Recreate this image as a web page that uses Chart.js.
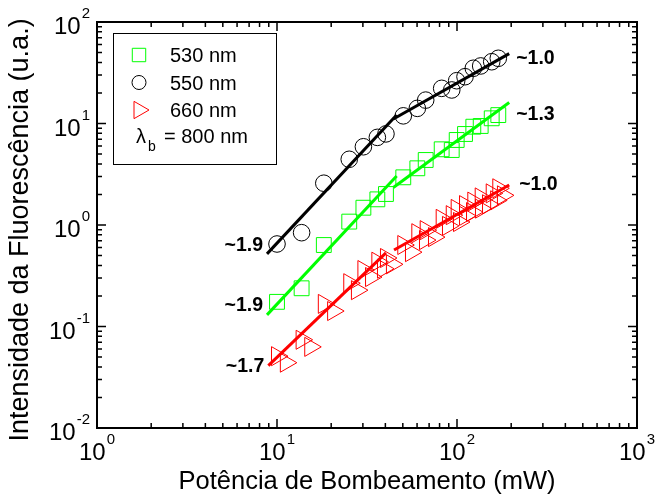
<!DOCTYPE html>
<html>
<head>
<meta charset="utf-8">
<script src="https://cdn.jsdelivr.net/npm/chart.js@4.4.1/dist/chart.umd.min.js"></script>
<style>
  html, body { margin: 0; padding: 0; background: #fff; }
</style>
</head>
<body>
<canvas id="chart" width="657" height="504"></canvas>
<script>
// pump power (mW) shared by the 530 / 550 nm bands and the first 660 nm run
const power = [10.0, 13.7, 18.2, 25.2, 30.2, 36.1, 40.3, 50.3, 60.2, 67.0, 82.2, 93.5, 99.6, 110.8, 123.2, 135.4, 155.9, 169.6];
const band530 = [0.175, 0.238, 0.635, 1.08, 1.48, 1.79, 2.02, 2.95, 3.62, 4.37, 5.57, 5.48, 6.88, 7.88, 9.3, 9.45, 11.25, 12.1];
const band550 = [0.65, 0.84, 2.58, 4.44, 5.9, 7.3, 7.9, 11.9, 14.1, 17.0, 22.2, 21.4, 26.4, 28.9, 35.0, 36.9, 40.6, 43.9];
const band660 = [0.051, 0.074, 0.167, 0.267, 0.36, 0.435, 0.473, 0.635, 0.83, 0.89, 1.15, 1.25, 1.44, 1.57, 1.70, 1.87, 2.05, 2.30];
// second 660 nm run
const power660b = [11.2, 15.3, 20.5, 27.8, 33.3, 38.8, 43.5, 55.5, 66.4, 74.5, 89.1, 102.6, 110.8, 121.2, 135.9, 148.7, 165.0, 180.0];
const band660b = [0.044, 0.063, 0.142, 0.228, 0.307, 0.371, 0.41, 0.54, 0.71, 0.76, 0.98, 1.07, 1.23, 1.34, 1.45, 1.6, 1.75, 1.96];

// power-law fits  I = a * P^n  (n is the slope written beside each line)
const fitBand = ['550', '550', '530', '530', '660', '660'];
const fitSlope = [1.9, 1.0, 1.9, 1.3, 1.7, 1.0];
const fitCoef = [0.00834, 0.25, 0.00209, 0.01695, 0.000993, 0.0127];
const fitFrom = [8.8, 44.3, 8.8, 44.3, 8.95, 44.7];
const fitTo = [46.2, 195, 46.2, 195, 40.3, 195];

const xTickExp = [0, 1, 2, 3];
const yTickExp = [-2, -1, 0, 1, 2];

const FONT = '"Liberation Sans", Arial, Helvetica, sans-serif';
const colors = { '530': '#00ff00', '550': '#000000', '660': '#ff0000' };

// which end of the fit gets the slope label, and a small nudge [dx, dy]
const labelSide = ['start', 'end', 'start', 'end', 'start', 'end'];
const labelNudge = [[-4, -8], [7, 5], [-4, -9], [7, 12], [-4, 1], [10, 0]];

const pts = (xs, ys) => xs.map((x, i) => ({ x: x, y: ys[i] }));

const markers = [
  { label: '530 nm', data: pts(power, band530), borderColor: colors['530'],
    pointStyle: 'rect', pointRadius: 10.5, pointRotation: 0 },
  { label: '550 nm', data: pts(power, band550), borderColor: colors['550'],
    pointStyle: 'circle', pointRadius: 8.3, pointRotation: 0 },
  { label: '660 nm', data: pts(power, band660), borderColor: colors['660'],
    pointStyle: 'triangle', pointRadius: 11, pointRotation: 90 },
  { label: '', data: pts(power660b, band660b), borderColor: colors['660'],
    pointStyle: 'triangle', pointRadius: 11, pointRotation: 90, inLegend: false }
].map(d => Object.assign({
  backgroundColor: 'rgba(0,0,0,0)', borderWidth: 1, showLine: false, order: 2
}, d));

const fits = fitSlope.map((n, i) => ({
  label: 'fit',
  isFit: true,
  fitIndex: i,
  data: [fitFrom[i], fitTo[i]].map(p => ({ x: p, y: fitCoef[i] * Math.pow(p, n) })),
  borderColor: colors[fitBand[i]],
  borderWidth: 3,
  pointRadius: 0,
  showLine: true,
  order: 1
}));

function drawPow(ctx, exp, x, baseY, align) {
  // "10" with a raised exponent
  const base = '10', sup = String(exp);
  ctx.font = '24px ' + FONT;
  const wb = ctx.measureText(base).width;
  ctx.font = '15px ' + FONT;
  const ws = ctx.measureText(sup).width;
  const total = wb + 1 + ws;
  let left = align === 'right' ? x - total : x - total / 2;
  ctx.textAlign = 'left';
  ctx.textBaseline = 'alphabetic';
  ctx.font = '24px ' + FONT;
  ctx.fillText(base, left, baseY);
  ctx.font = '15px ' + FONT;
  ctx.fillText(sup, left + wb + 1, baseY - 16);
}

const decor = {
  id: 'decor',
  afterDatasetsDraw(chart) {
    const { ctx, chartArea: a, scales: { x, y } } = chart;
    ctx.save();
    ctx.strokeStyle = '#000';
    ctx.fillStyle = '#000';

    // inward ticks on all four sides
    ctx.lineWidth = 1.5;
    ctx.beginPath();
    for (let e = xTickExp[0]; e <= xTickExp[xTickExp.length - 1]; e++) {
      for (let m = 1; m <= 9; m++) {
        const v = m * Math.pow(10, e);
        if (v > x.max) break;
        const px = x.getPixelForValue(v);
        const len = m === 1 ? 9 : 5;
        ctx.moveTo(px, a.bottom); ctx.lineTo(px, a.bottom - len);
        ctx.moveTo(px, a.top); ctx.lineTo(px, a.top + len);
      }
    }
    for (let e = yTickExp[0]; e <= yTickExp[yTickExp.length - 1]; e++) {
      for (let m = 1; m <= 9; m++) {
        const v = m * Math.pow(10, e);
        if (v > y.max * 1.0001) break;
        const py = y.getPixelForValue(v);
        const len = m === 1 ? 9 : 5;
        ctx.moveTo(a.left, py); ctx.lineTo(a.left + len, py);
        ctx.moveTo(a.right, py); ctx.lineTo(a.right - len, py);
      }
    }
    ctx.stroke();

    ctx.lineWidth = 2;
    ctx.strokeRect(a.left, a.top, a.right - a.left, a.bottom - a.top);

    // tick labels
    xTickExp.forEach(e => drawPow(ctx, e, x.getPixelForValue(Math.pow(10, e)), a.bottom + 32, 'center'));
    yTickExp.forEach(e => drawPow(ctx, e, a.left - 7, y.getPixelForValue(Math.pow(10, e)) + 12, 'right'));

    // axis titles
    ctx.textAlign = 'center';
    ctx.textBaseline = 'alphabetic';
    ctx.font = '25.5px ' + FONT;
    ctx.fillText('Potência de Bombeamento (mW)', (a.left + a.right) / 2, 489);
    ctx.save();
    ctx.translate(28, (a.top + a.bottom) / 2 + 5);
    ctx.rotate(-Math.PI / 2);
    ctx.font = '27px ' + FONT;
    ctx.fillText('Intensidade da Fluorescência (u.a.)', 0, 0);
    ctx.restore();

    // slope labels at the ends of the fits
    ctx.font = 'bold 19.5px ' + FONT;
    ctx.textBaseline = 'middle';
    chart.data.datasets.forEach(ds => {
      if (!ds.isFit) return;
      const i = ds.fitIndex;
      const p = labelSide[i] === 'start' ? ds.data[0] : ds.data[1];
      const px = x.getPixelForValue(p.x) + labelNudge[i][0];
      const py = y.getPixelForValue(p.y) + labelNudge[i][1];
      ctx.textAlign = labelSide[i] === 'start' ? 'right' : 'left';
      ctx.fillText('~' + fitSlope[i].toFixed(1), px, py);
    });

    // legend box
    ctx.lineWidth = 1;
    ctx.strokeRect(113.5, 33.5, 163, 131);
    const rows = [55, 82.5, 110];
    let r = 0;
    chart.data.datasets.forEach(ds => {
      if (ds.isFit || ds.inLegend === false) return;
      const cy = rows[r++];
      ctx.strokeStyle = ds.borderColor;
      ctx.fillStyle = 'rgba(0,0,0,0)';
      ctx.lineWidth = 1;
      const rad = ds.pointStyle === 'circle' ? 7 : ds.pointStyle === 'rect' ? 9.5 : 10;
      Chart.helpers.drawPoint(ctx, { pointStyle: ds.pointStyle, rotation: ds.pointRotation, radius: rad, borderWidth: 1 }, 139, cy);
      ctx.fillStyle = '#000';
      ctx.font = '20px ' + FONT;
      ctx.textAlign = 'left';
      ctx.textBaseline = 'alphabetic';
      ctx.fillText(ds.label, 170, cy + 7);
    });
    ctx.fillStyle = '#000';
    ctx.font = '20px ' + FONT;
    ctx.fillText('\u03bb', 136, 143);
    ctx.font = '14px ' + FONT;
    ctx.fillText('b', 148, 151);
    ctx.font = '20px ' + FONT;
    ctx.fillText('= 800 nm', 164, 143);

    ctx.restore();
  }
};

new Chart(document.getElementById('chart'), {
  type: 'scatter',
  data: { datasets: markers.concat(fits) },
  options: {
    responsive: false,
    devicePixelRatio: 1,
    animation: false,
    layout: { padding: { left: 97, top: 22, right: 20, bottom: 76 } },
    scales: {
      x: { type: 'logarithmic', min: 1, max: 1000, display: false },
      y: { type: 'logarithmic', min: 0.01, max: 100, display: false }
    },
    plugins: {
      legend: { display: false },
      tooltip: { enabled: false }
    }
  },
  plugins: [decor]
});
</script>
</body>
</html>
